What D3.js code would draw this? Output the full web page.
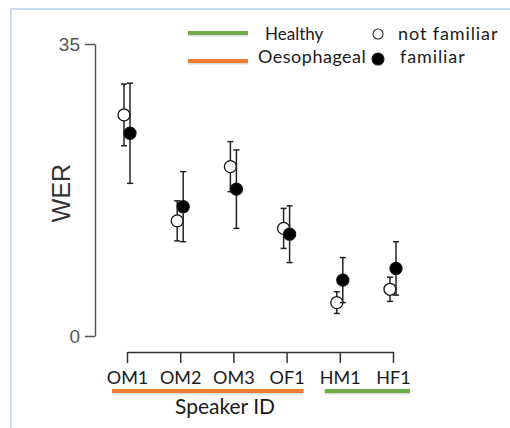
<!DOCTYPE html>
<html>
<head>
<meta charset="utf-8">
<script src="https://cdn.jsdelivr.net/npm/d3@7"></script>
<style>
  body { margin: 0; background: #fff; }
  svg { display: block; }
</style>
</head>
<body>
<svg id="chart" width="510" height="428"></svg>
<script>
"use strict";

var categories = ["OM1", "OM2", "OM3", "OF1", "HM1", "HF1"];
var notFamiliar = [26.5, 13.8, 20.3, 12.9, 4.0, 5.6];
var notFamiliarErr = [3.7, 2.4, 3.0, 2.4, 1.3, 1.45];
var familiar = [24.3, 15.5, 17.6, 12.2, 6.7, 8.1];
var familiarErr = [6.0, 4.2, 4.7, 3.4, 2.7, 3.2];
var yTicks = [0, 35];
var groups = [
    { name: "Oesophageal", color: "#ed7d31", first: "OM1", last: "OF1" },
    { name: "Healthy", color: "#70ad47", first: "HM1", last: "HF1" }
];

var svg = d3.select("#chart");
var labelFont = "Lato, 'Open Sans', sans-serif";

// light blue frame of the original figure
svg.append("path")
    .attr("d", "M11,428V9H510")
    .attr("fill", "none")
    .attr("stroke", "#b7d0ee")
    .attr("stroke-width", 1.5);

var x = d3.scalePoint().domain(categories).range([127, 393]);
var y = d3.scaleLinear().domain([0, 35]).range([336, 44]);

// y axis
var gY = svg.append("g")
    .attr("transform", "translate(95,0)")
    .call(d3.axisLeft(y).tickValues(yTicks).tickSize(10).tickSizeOuter(0).tickPadding(5));
gY.selectAll("path, line").attr("stroke", "#555").attr("stroke-width", 1.5);
gY.selectAll("text")
    .attr("fill", "#555")
    .style("font-family", "'Liberation Sans', Arial, sans-serif")
    .style("font-size", "19px");

// x axis bracket
var gX = svg.append("g")
    .attr("transform", "translate(0,352)")
    .call(d3.axisBottom(x).tickSize(11).tickSizeOuter(0).tickPadding(8));
gX.selectAll("path, line").attr("stroke", "#333").attr("stroke-width", 1.5);
gX.selectAll("text")
    .attr("fill", "#1a1a1a")
    .style("font-family", labelFont)
    .style("font-size", "18px");

// group bars under tick labels
groups.forEach(function (g) {
    var x0 = x(g.first) - 15, x1 = x(g.last) + 17;
    svg.append("line").attr("x1", x0).attr("x2", x1).attr("y1", 392.5).attr("y2", 392.5)
        .attr("stroke", "#999").attr("stroke-opacity", 0.35).attr("stroke-width", 4);
    svg.append("line").attr("x1", x0).attr("x2", x1).attr("y1", 391).attr("y2", 391)
        .attr("stroke", g.color).attr("stroke-width", 4);
});

svg.append("text")
    .attr("x", 225).attr("y", 414)
    .attr("text-anchor", "middle")
    .attr("fill", "#1a1a1a")
    .style("font-family", labelFont)
    .style("font-size", "21px")
    .text("Speaker ID");

svg.append("text")
    .attr("transform", "translate(70,193) rotate(-90)")
    .attr("text-anchor", "middle")
    .attr("fill", "#333")
    .style("font-family", "'Liberation Sans', Arial, sans-serif")
    .style("font-size", "25px")
    .text("WER");

// points with error bars
var series = [
    { values: notFamiliar, err: notFamiliarErr, dx: -3, fill: "#fff" },
    { values: familiar, err: familiarErr, dx: 3, fill: "#000" }
];
var cap = 3;
series.forEach(function (s) {
    var g = svg.append("g");
    categories.forEach(function (c, i) {
        var cx = x(c) + s.dx;
        var lo = y(s.values[i] - s.err[i]), hi = y(s.values[i] + s.err[i]);
        g.append("line").attr("x1", cx).attr("x2", cx).attr("y1", lo).attr("y2", hi);
        g.append("line").attr("x1", cx - cap).attr("x2", cx + cap).attr("y1", lo).attr("y2", lo);
        g.append("line").attr("x1", cx - cap).attr("x2", cx + cap).attr("y1", hi).attr("y2", hi);
    });
    g.selectAll("line").attr("stroke", "#222").attr("stroke-width", 1.5);
    g.selectAll("circle")
        .data(s.values)
        .join("circle")
        .attr("cx", function (d, i) { return x(categories[i]) + s.dx; })
        .attr("cy", function (d) { return y(d); })
        .attr("r", 6)
        .attr("fill", s.fill)
        .attr("stroke", "#111")
        .attr("stroke-width", 1.3);
});

// legend
var legend = svg.append("g").attr("class", "legend");
var legendGroups = [
    { g: groups[1], ly: 33, tx: 265, ty: 40, size: 17, ls: 0 },
    { g: groups[0], ly: 61, tx: 258, ty: 63, size: 18, ls: 0.5 }
];
legendGroups.forEach(function (item) {
    legend.append("line").attr("x1", 188).attr("x2", 248).attr("y1", item.ly + 1.5).attr("y2", item.ly + 1.5)
        .attr("stroke", "#999").attr("stroke-opacity", 0.35).attr("stroke-width", 4);
    legend.append("line").attr("x1", 188).attr("x2", 248).attr("y1", item.ly).attr("y2", item.ly)
        .attr("stroke", item.g.color).attr("stroke-width", 4);
    legend.append("text")
        .attr("x", item.tx).attr("y", item.ty)
        .attr("fill", "#1a1a1a")
        .style("font-family", labelFont)
        .style("font-size", item.size + "px")
        .style("letter-spacing", item.ls + "px")
        .text(item.g.name);
});
var legendMarks = [
    { name: "not familiar", fill: "#fff", cy: 34, r: 5, tx: 398, ty: 40 },
    { name: "familiar", fill: "#000", cy: 59, r: 6, tx: 400, ty: 63 }
];
legendMarks.forEach(function (m) {
    legend.append("circle").attr("cx", 378).attr("cy", m.cy).attr("r", m.r)
        .attr("fill", m.fill).attr("stroke", "#222").attr("stroke-width", 1.1);
    legend.append("text")
        .attr("x", m.tx).attr("y", m.ty)
        .attr("fill", "#1a1a1a")
        .style("font-family", labelFont)
        .style("font-size", "18px")
        .style("letter-spacing", "0.9px")
        .text(m.name);
});
</script>
</body>
</html>
